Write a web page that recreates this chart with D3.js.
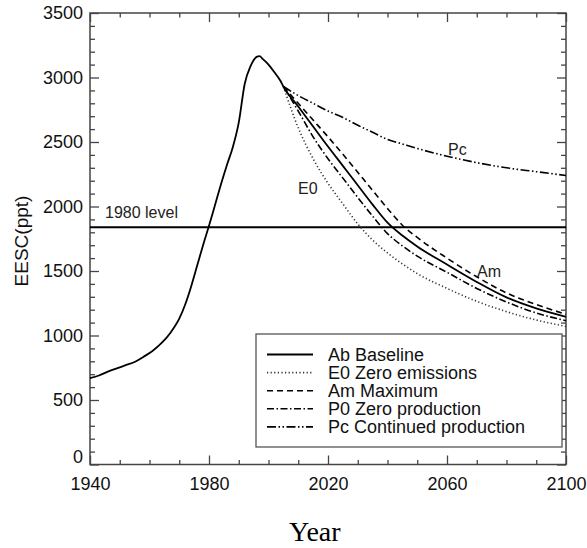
<!DOCTYPE html>
<html><head><meta charset="utf-8">
<script src="https://cdn.jsdelivr.net/npm/d3@7/dist/d3.min.js"></script>
<style>body{margin:0;background:#fff}svg{display:block}</style>
</head><body>
<svg id="c" width="587" height="548"></svg>
<script>
// ---- data ----
const abYears  = [1940,1943,1946,1949,1952,1955,1958,1961,1964,1967,1970,1972,1974,1976,1978,1980,1982,1984,1986,1988,1990,1992,1994,1996,1997,1998,2000,2002,2004,2005,2010,2015,2020,2025,2030,2035,2040,2045,2050,2060,2070,2080,2090,2100];
const abValues = [670,690,720,745,770,795,835,880,940,1020,1130,1240,1380,1540,1700,1850,2010,2170,2320,2460,2650,2950,3090,3160,3165,3145,3100,3040,2975,2930,2775,2620,2465,2315,2165,2015,1875,1775,1690,1550,1415,1295,1210,1145];
const scYears  = [2005,2010,2015,2020,2025,2030,2035,2040,2045,2050,2060,2070,2080,2090,2100];
const e0Values = [2930,2610,2370,2180,2020,1865,1740,1640,1555,1480,1365,1265,1185,1120,1070];
const amValues = [2930,2800,2670,2540,2405,2265,2125,1985,1855,1760,1600,1455,1330,1240,1165];
const p0Values = [2930,2740,2540,2370,2220,2070,1925,1790,1695,1615,1490,1365,1260,1175,1115];
const pcValues = [2930,2860,2800,2740,2690,2630,2575,2520,2485,2450,2390,2340,2300,2270,2240];
const legendLabels = ["Ab Baseline","E0 Zero emissions","Am Maximum","P0 Zero production","Pc Continued production"];
const xMajorTicks = [1940,1980,2020,2060,2100];
const yMajorTicks = [0,500,1000,1500,2000,2500,3000,3500];
const level1980 = 1840;

// ---- layout ----
const L=90, R=566, T=13, B=464.5;
const svg=d3.select("#c");
const x=d3.scaleLinear().domain([1940,2100]).range([L,R]);
const y=d3.scaleLinear().domain([0,3500]).range([B,T]);
const font="Liberation Sans, Arial, sans-serif";
const axCol="#444";

const xMinor=d3.range(1940,2101,10).filter(v=>!xMajorTicks.includes(v));
const yMinor=d3.range(0,3501,100).filter(v=>!yMajorTicks.includes(v));

function styleAxis(g){g.select(".domain").remove();g.selectAll("line").attr("stroke",axCol).attr("stroke-width",1.3);g.selectAll("text").attr("font-family",font).attr("font-size",18).attr("fill","#111");}

svg.append("g").attr("transform",`translate(0,${B})`).call(d3.axisBottom(x).tickValues(xMajorTicks).tickSize(-9).tickPadding(13).tickFormat(d3.format("d"))).call(styleAxis);
svg.append("g").attr("transform",`translate(0,${B})`).call(d3.axisBottom(x).tickValues(xMinor).tickSize(-4.5).tickFormat("")).call(styleAxis);
svg.append("g").attr("transform",`translate(0,${T})`).call(d3.axisTop(x).tickValues(xMajorTicks).tickSize(-9).tickFormat("")).call(styleAxis);
svg.append("g").attr("transform",`translate(0,${T})`).call(d3.axisTop(x).tickValues(xMinor).tickSize(-4.5).tickFormat("")).call(styleAxis);
const yl=svg.append("g").attr("transform",`translate(${L},0)`).call(d3.axisLeft(y).tickValues(yMajorTicks).tickSize(-9).tickPadding(7).tickFormat(d3.format("d"))).call(styleAxis);
yl.selectAll(".tick").filter(d=>d===0).select("text").attr("dy","-0.1em");
svg.append("g").attr("transform",`translate(${L},0)`).call(d3.axisLeft(y).tickValues(yMinor).tickSize(-5).tickFormat("")).call(styleAxis);
svg.append("g").attr("transform",`translate(${R},0)`).call(d3.axisRight(y).tickValues(yMajorTicks).tickSize(-9).tickFormat("")).call(styleAxis);
svg.append("g").attr("transform",`translate(${R},0)`).call(d3.axisRight(y).tickValues(yMinor).tickSize(-5).tickFormat("")).call(styleAxis);

svg.append("rect").attr("x",L).attr("y",T).attr("width",R-L).attr("height",B-T).attr("fill","none").attr("stroke",axCol).attr("stroke-width",1.5);

svg.append("line").attr("x1",L).attr("x2",R).attr("y1",y(level1980)).attr("y2",y(level1980)).attr("stroke","#000").attr("stroke-width",2);
svg.append("text").attr("x",105).attr("y",218).attr("font-family",font).attr("font-size",16).attr("fill","#222").text("1980 level");

const line=d3.line().x(d=>x(d[0])).y(d=>y(d[1])).curve(d3.curveMonotoneX);
const styles=[
 {dash:null,w:1.8,col:"#000"},
 {dash:"1.2,2.4",w:1.6,col:"#333"},
 {dash:"6,4",w:1.6,col:"#000"},
 {dash:"7,2.5,1.5,2.5",w:1.6,col:"#000"},
 {dash:"9,2.5,1.5,2.5,1.5,2.5",w:1.6,col:"#000"}
];
const series=[
 d3.zip(abYears,abValues),
 d3.zip(scYears,e0Values),
 d3.zip(scYears,amValues),
 d3.zip(scYears,p0Values),
 d3.zip(scYears,pcValues)
];
[4,1,3,2,0].forEach(i=>{
  svg.append("path").datum(series[i]).attr("d",line).attr("fill","none")
   .attr("stroke",styles[i].col).attr("stroke-width",styles[i].w)
   .attr("stroke-dasharray",styles[i].dash);
});

const lab=(t,xx,yy)=>svg.append("text").attr("x",xx).attr("y",yy).attr("font-family",font).attr("font-size",16).attr("fill","#222").text(t);
lab("E0",298,194);
lab("Pc",448,155);
lab("Am",477,277);

const lg=svg.append("g");
lg.append("rect").attr("x",256).attr("y",334).attr("width",306).attr("height",113).attr("fill","#fff").attr("stroke","#555").attr("stroke-width",1.3);
legendLabels.forEach((t,i)=>{
  const yy=354.5+i*18.1;
  lg.append("line").attr("x1",267).attr("x2",313).attr("y1",yy).attr("y2",yy)
    .attr("stroke",styles[i].col).attr("stroke-width",styles[i].w).attr("stroke-dasharray",styles[i].dash);
  lg.append("text").attr("x",328).attr("y",yy+6.5).attr("font-family",font).attr("font-size",18).attr("fill","#111").text(t);
});

svg.append("text").attr("transform","translate(28,241) rotate(-90)").attr("text-anchor","middle")
  .attr("font-family",font).attr("font-size",19).attr("fill","#111").text("EESC(ppt)");
svg.append("text").attr("x",289).attr("y",541).attr("font-family","Liberation Serif, Times New Roman, serif")
  .attr("font-size",28).attr("fill","#000").text("Year");
</script>
</body></html>
